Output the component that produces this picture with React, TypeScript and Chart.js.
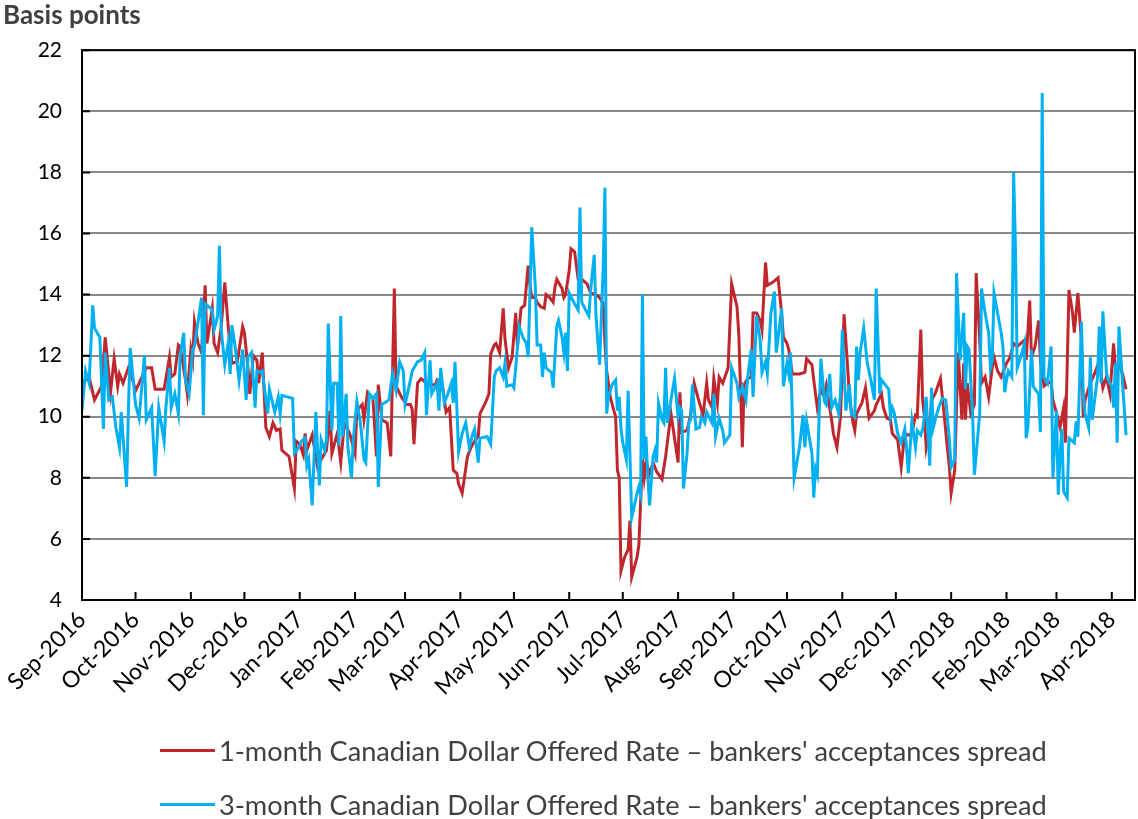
import React, { useEffect, useRef } from "react";
import { Chart, registerables } from "chart.js";

Chart.register(...registerables);

// ---- Data ----
// x = days since 1 Sep 2016
const monthTickDays = [0, 30, 61, 91, 122, 153, 181, 212, 242, 273, 303, 334, 365, 395, 426, 456, 487, 518, 546, 577];
const monthTickLabels = [
  "Sep-2016", "Oct-2016", "Nov-2016", "Dec-2016", "Jan-2017", "Feb-2017", "Mar-2017", "Apr-2017",
  "May-2017", "Jun-2017", "Jul-2017", "Aug-2017", "Sep-2017", "Oct-2017", "Nov-2017", "Dec-2017",
  "Jan-2018", "Feb-2018", "Mar-2018", "Apr-2018",
];

const seriesLabels = [
  "1-month Canadian Dollar Offered Rate \u2013 bankers' acceptances spread",
  "3-month Canadian Dollar Offered Rate \u2013 bankers' acceptances spread",
];

const oneMonthDays = [
  0, 4, 7, 11, 13, 16, 18, 20, 21, 23,
  26, 28, 30, 32, 36, 39, 41, 44, 46, 49,
  50, 52, 54, 55, 58, 59, 61, 62, 63, 65,
  67, 69, 70, 73, 74, 76, 78, 80, 82, 84,
  87, 90, 91, 93, 94, 96, 98, 99, 101, 103,
  105, 107, 109, 111, 112, 116, 119, 120, 122, 124,
  125, 126, 129, 132, 134, 137, 139, 140, 143, 145,
  147, 150, 153, 154, 157, 158, 160, 163, 165, 166,
  168, 171, 173, 175, 176, 179, 182, 184, 185, 186,
  188, 190, 192, 195, 198, 199, 202, 204, 206, 208,
  210, 211, 213, 215, 216, 218, 220, 222, 223, 226,
  228, 229, 231, 232, 234, 236, 237, 239, 241, 243,
  244, 246, 248, 250, 251, 252, 254, 255, 257, 259,
  260, 262, 264, 265, 266, 269, 270, 271, 273, 274,
  276, 278, 280, 283, 285, 288, 290, 292, 293, 294,
  296, 298, 299, 300, 301, 302, 304, 306, 307, 308,
  311, 312, 314, 315, 316, 318, 320, 322, 325, 327,
  330, 334, 335, 336, 339, 341, 343, 345, 348, 350,
  351, 353, 354, 356, 357, 359, 362, 364, 367, 368,
  370, 371, 373, 375, 376, 378, 380, 381, 383, 384,
  387, 389, 390, 392, 393, 395, 396, 398, 402, 405,
  406, 409, 410, 412, 414, 416, 417, 420, 421, 423,
  425, 427, 429, 430, 432, 433, 434, 437, 439, 441,
  444, 445, 448, 449, 451, 453, 454, 457, 459, 461,
  463, 465, 467, 468, 470, 471, 472, 473, 475, 476,
  478, 481, 483, 485, 486, 487, 489, 490, 491, 493,
  494, 495, 496, 498, 500, 501, 503, 504, 506, 508,
  510, 511, 513, 515, 517, 518, 520, 522, 524, 526,
  528, 529, 531, 532, 534, 536, 537, 539, 541, 543,
  544, 547, 548, 550, 551, 553, 555, 556, 558, 560,
  561, 562, 565, 568, 570, 572, 574, 576, 578, 579,
  581, 583, 585,
];
const oneMonthSpread = [
  11.1, 11.3, 10.55, 11.0, 12.6, 10.8, 11.9, 11.0, 11.4, 11.1,
  11.6, 11.3, 10.85, 11.1, 11.6, 11.6, 10.9, 10.9, 10.9, 11.95,
  11.3, 11.4, 12.35, 12.3, 11.2, 10.75, 12.2, 11.85, 13.1, 12.4,
  12.1, 14.3, 12.4, 13.55, 12.4, 12.1, 12.95, 14.4, 12.9, 11.75,
  11.8, 12.95, 12.75, 11.6, 10.75, 12.0, 11.85, 11.1, 12.1, 9.65,
  9.35, 9.8, 9.55, 9.6, 8.9, 8.7, 7.65, 9.2, 9.1, 8.75,
  9.45, 8.9, 9.4, 8.35, 8.6, 8.9, 10.2, 8.8, 9.45, 8.5,
  9.8, 9.45, 8.8, 10.2, 10.4, 9.9, 10.8, 10.6, 8.7, 11.05,
  9.9, 9.8, 8.7, 14.2, 11.0, 10.65, 10.4, 10.4, 10.25, 9.1,
  11.1, 11.25, 11.15, 11.05, 11.05, 11.2, 11.0, 10.15, 10.3, 8.25,
  8.15, 7.8, 7.5, 8.3, 8.7, 9.0, 9.2, 9.35, 10.1, 10.45,
  10.75, 12.05, 12.35, 12.4, 12.1, 13.55, 12.55, 11.6, 11.95, 13.4,
  12.3, 13.55, 13.65, 14.95, 14.3, 13.9, 13.9, 13.75, 13.6, 13.55,
  14.0, 13.9, 13.75, 14.25, 14.5, 14.2, 13.9, 14.0, 14.8, 15.5,
  15.4, 14.5, 14.5, 14.35, 14.05, 14.0, 13.9, 13.7, 12.4, 11.5,
  10.65, 10.2, 10.0, 8.25, 8.0, 4.95, 5.4, 5.65, 6.6, 4.75,
  5.4, 5.8, 8.6, 8.0, 8.5, 8.15, 8.5, 8.2, 7.95, 8.7,
  10.1, 8.5, 10.8, 9.5, 9.55, 10.05, 11.1, 10.65, 10.05, 11.1,
  10.55, 10.3, 11.25, 10.45, 11.3, 11.1, 11.6, 14.35, 13.6, 12.7,
  9.0, 11.05, 11.25, 11.3, 13.4, 13.4, 13.15, 12.85, 15.05, 14.3,
  14.4, 14.5, 14.55, 13.4, 12.6, 12.4, 12.2, 11.4, 11.4, 11.45,
  11.9, 11.7, 11.2, 10.3, 10.9, 10.65, 11.0, 9.9, 9.45, 9.0,
  10.0, 13.35, 11.6, 10.65, 9.8, 9.55, 10.1, 10.45, 10.95, 9.95,
  10.2, 10.4, 10.75, 10.3, 9.95, 9.9, 9.45, 9.25, 8.35, 9.45,
  9.4, 9.45, 10.05, 10.0, 12.85, 10.55, 10.0, 9.0, 9.65, 10.55,
  10.75, 11.25, 10.1, 8.9, 8.35, 7.5, 8.25, 10.3, 12.1, 9.9,
  11.75, 9.9, 11.1, 10.1, 10.4, 14.7, 12.5, 11.1, 11.3, 10.65,
  11.6, 11.95, 11.5, 11.3, 11.6, 11.75, 11.95, 12.4, 12.3, 12.4,
  12.5, 11.85, 13.8, 11.95, 12.3, 13.15, 11.85, 11.0, 11.1, 11.15,
  10.55, 9.9, 9.65, 10.3, 9.15, 14.15, 13.4, 12.75, 14.05, 12.5,
  10.0, 10.55, 11.1, 11.5, 11.85, 10.95, 11.3, 10.75, 12.4, 11.6,
  11.75, 11.4, 10.9,
];

const threeMonthDays = [
  0, 2, 4, 6, 7, 10, 12, 13, 15, 17,
  19, 21, 22, 25, 26, 27, 30, 32, 35, 36,
  39, 41, 43, 46, 47, 49, 50, 52, 54, 55,
  57, 58, 60, 62, 63, 67, 68, 69, 73, 74,
  76, 77, 78, 80, 82, 83, 84, 86, 88, 90,
  92, 93, 95, 97, 98, 100, 101, 104, 105, 108,
  110, 111, 112, 118, 119, 121, 123, 125, 126, 127,
  129, 131, 133, 134, 136, 137, 138, 140, 141, 143,
  144, 145, 146, 148, 149, 151, 152, 154, 156, 158,
  159, 161, 163, 165, 166, 168, 172, 174, 176, 178,
  180, 181, 184, 185, 188, 190, 192, 193, 195, 196,
  199, 200, 201, 203, 205, 207, 208, 209, 211, 213,
  215, 217, 219, 220, 222, 223, 227, 229, 231, 232,
  234, 236, 237, 238, 241, 242, 243, 245, 247, 249,
  250, 252, 254, 255, 257, 258, 259, 260, 263, 264,
  266, 267, 269, 270, 271, 272, 273, 276, 278, 279,
  280, 283, 284, 285, 287, 288, 290, 292, 293, 294,
  295, 297, 299, 300, 301, 302, 303, 305, 306, 308,
  311, 312, 313, 314, 315, 316, 317, 318, 320, 321,
  322, 323, 325, 326, 327, 328, 330, 332, 334, 335,
  336, 337, 339, 340, 341, 342, 344, 346, 347, 349,
  350, 353, 354, 355, 357, 359, 360, 363, 364, 367,
  368, 370, 372, 373, 375, 376, 378, 380, 381, 383,
  384, 386, 388, 389, 392, 393, 395, 396, 397, 399,
  402, 404, 405, 406, 409, 410, 411, 412, 414, 416,
  417, 419, 420, 422, 424, 425, 426, 428, 430, 431,
  433, 434, 435, 436, 438, 440, 442, 444, 445, 447,
  448, 450, 452, 453, 454, 455, 457, 459, 461, 462,
  463, 464, 465, 467, 468, 470, 471, 472, 473, 475,
  476, 477, 478, 480, 482, 484, 486, 487, 489, 490,
  492, 494, 495, 496, 497, 499, 500, 503, 504, 506,
  508, 509, 510, 511, 513, 515, 516, 517, 518, 519,
  521, 522, 523, 524, 526, 528, 529, 530, 532, 533,
  534, 536, 537, 538, 539, 541, 543, 544, 546, 547,
  548, 549, 550, 552, 553, 556, 557, 558, 560, 561,
  562, 564, 565, 566, 569, 570, 571, 572, 574, 575,
  577, 578, 579, 580, 581, 583, 585,
];
const threeMonthSpread = [
  10.2, 11.5, 11.1, 13.65, 12.9, 12.6, 9.6, 12.1, 10.55, 10.65,
  9.65, 9.0, 10.15, 7.7, 10.2, 12.25, 10.4, 9.95, 12.0, 9.9,
  10.3, 8.05, 10.3, 9.2, 10.3, 11.6, 10.3, 10.75, 10.1, 12.0,
  12.75, 11.2, 10.75, 12.2, 12.3, 13.9, 10.05, 13.7, 13.5, 12.85,
  13.3, 15.6, 12.85, 11.7, 12.45, 11.4, 13.0, 12.2, 11.2, 12.2,
  10.55, 11.95, 12.1, 10.3, 11.5, 11.45, 11.5, 10.1, 10.9, 10.15,
  10.65, 10.1, 10.7, 10.6, 8.8, 8.95, 9.2, 9.3, 8.4, 8.6,
  7.1, 10.15, 7.75, 9.25, 8.9, 9.25, 13.05, 9.55, 11.1, 11.1,
  9.05, 13.3, 9.35, 10.75, 9.0, 8.0, 9.25, 10.5, 9.8, 8.6,
  8.5, 10.75, 10.6, 10.75, 7.7, 10.4, 10.55, 11.4, 10.85, 11.8,
  11.5, 10.4, 11.2, 11.5, 11.8, 11.85, 12.1, 10.05, 11.85, 10.75,
  11.1, 10.2, 11.6, 10.45, 10.75, 11.1, 10.45, 11.8, 8.85, 9.45,
  9.8, 9.0, 9.45, 9.6, 8.5, 9.3, 9.35, 9.1, 11.3, 11.5,
  11.6, 11.3, 11.75, 11.0, 11.05, 10.95, 11.6, 12.95, 12.6, 12.4,
  11.95, 16.2, 14.25, 12.35, 12.35, 11.3, 12.1, 11.6, 11.45, 10.95,
  12.95, 13.15, 12.6, 12.1, 12.75, 11.5, 14.05, 13.7, 13.5, 16.85,
  13.75, 13.4, 13.3, 14.15, 15.3, 13.3, 11.7, 14.8, 17.5, 10.1,
  10.65, 11.05, 11.2, 10.2, 10.65, 9.6, 9.15, 8.6, 10.85, 6.7,
  7.5, 7.7, 7.45, 14.0, 8.6, 9.35, 8.05, 7.1, 8.7, 8.9,
  8.5, 10.45, 9.9, 9.8, 11.6, 9.8, 10.55, 11.25, 10.0, 10.3,
  10.2, 7.65, 8.8, 9.8, 9.9, 11.05, 9.6, 9.65, 10.0, 9.8,
  10.15, 9.8, 10.75, 9.35, 9.95, 9.55, 9.15, 9.4, 11.6, 11.1,
  10.65, 11.0, 10.55, 11.3, 12.2, 10.65, 13.3, 12.5, 11.45, 11.8,
  11.4, 13.4, 14.1, 12.1, 13.55, 11.0, 11.75, 11.4, 12.1, 8.0,
  9.0, 10.05, 9.0, 9.85, 8.8, 7.35, 8.3, 8.1, 11.9, 10.5,
  10.4, 11.4, 10.3, 10.55, 10.1, 10.8, 12.85, 10.2, 11.05, 10.1,
  10.0, 12.3, 11.2, 12.1, 12.9, 11.75, 11.2, 10.55, 14.2, 10.75,
  11.2, 11.05, 10.9, 10.0, 10.3, 10.15, 9.45, 9.15, 9.6, 9.0,
  8.15, 9.0, 9.85, 9.0, 9.55, 9.4, 9.6, 10.0, 10.65, 8.4,
  10.95, 9.65, 9.9, 10.3, 10.6, 10.55, 9.25, 8.35, 8.6, 14.7,
  11.85, 13.4, 10.9, 12.3, 12.2, 10.1, 8.1, 10.1, 14.2, 13.4,
  12.75, 11.6, 11.85, 14.05, 13.4, 12.75, 12.3, 10.8, 11.2, 11.5,
  11.3, 18.0, 15.55, 11.6, 11.95, 12.4, 9.3, 9.65, 12.2, 11.0,
  10.9, 10.75, 9.5, 20.6, 11.3, 11.1, 12.3, 8.0, 10.2, 7.45,
  8.7, 9.6, 7.55, 7.35, 9.3, 9.15, 9.85, 9.35, 13.1, 10.75,
  10.1, 9.65, 11.95, 9.9, 11.3, 12.95, 11.1, 13.45, 11.45, 11.2,
  11.0, 10.3, 11.75, 9.15, 12.95, 11.1, 9.4,
];

const RED = "#C0272D";
const BLUE = "#00B0F0";
const FONT = "Lato, 'Open Sans', sans-serif";

const framePlugin = {
  id: "frame",
  afterDraw(chart: any) {
    const { ctx, chartArea, scales } = chart;
    const { left, top, right, bottom } = chartArea;
    ctx.save();
    ctx.strokeStyle = "#000";
    ctx.lineWidth = 2;
    ctx.strokeRect(left, top, right - left, bottom - top);
    ctx.beginPath();
    monthTickDays.forEach((d) => {
      const px = scales.x.getPixelForValue(d);
      ctx.moveTo(px, bottom);
      ctx.lineTo(px, bottom - 8);
    });
    scales.y.ticks.forEach((t: any) => {
      const py = scales.y.getPixelForValue(t.value);
      ctx.moveTo(left, py);
      ctx.lineTo(left + 8, py);
    });
    ctx.stroke();
    ctx.restore();
  },
};

export default function App() {
  const canvasRef = useRef<HTMLCanvasElement | null>(null);

  useEffect(() => {
    document.body.style.margin = "0";
    const canvas = canvasRef.current;
    if (!canvas) return;
    const chart = new Chart(canvas, {
      type: "line",
      data: {
        datasets: [
          {
            label: seriesLabels[0],
            data: oneMonthDays.map((d, i) => ({ x: d, y: oneMonthSpread[i] })),
            borderColor: RED,
            backgroundColor: RED,
            borderWidth: 3,
            pointRadius: 0,
            tension: 0,
            order: 1,
          },
          {
            label: seriesLabels[1],
            data: threeMonthDays.map((d, i) => ({ x: d, y: threeMonthSpread[i] })),
            borderColor: BLUE,
            backgroundColor: BLUE,
            borderWidth: 3,
            pointRadius: 0,
            tension: 0,
            order: 0,
          },
        ],
      },
      options: {
        animation: false,
        responsive: false,
        devicePixelRatio: 1,
        layout: { padding: { left: 3, right: 3, top: 0, bottom: 0 } },
        plugins: {
          legend: { display: false },
          tooltip: { enabled: false },
          title: {
            display: true,
            text: "Basis points",
            align: "start",
            color: "#404040",
            font: { family: FONT, size: 26, weight: "bold" },
            padding: { top: 0, bottom: 19 },
          },
        },
        scales: {
          x: {
            type: "linear",
            min: 0,
            max: 590,
            afterBuildTicks: (scale: any) => {
              scale.ticks = monthTickDays.map((v) => ({ value: v }));
            },
            afterFit: (scale: any) => {
              scale.height = 219;
            },
            ticks: {
              autoSkip: false,
              maxRotation: 45,
              minRotation: 45,
              padding: 6,
              color: "#000",
              font: { family: FONT, size: 23 },
              callback: (value: any) => {
                const i = monthTickDays.indexOf(Number(value));
                return i >= 0 ? monthTickLabels[i] : "";
              },
            },
            grid: { drawOnChartArea: false, drawTicks: false },
            border: { color: "#000", width: 2 },
          },
          y: {
            min: 4,
            max: 22,
            afterFit: (scale: any) => {
              scale.width = 79;
            },
            ticks: {
              stepSize: 2,
              padding: 20,
              color: "#000",
              font: { family: FONT, size: 21 },
            },
            grid: { color: "#898989", lineWidth: 2, drawTicks: false },
            border: { color: "#000", width: 2 },
          },
        },
      },
      plugins: [framePlugin],
    });
    return () => chart.destroy();
  }, []);

  const legendRow = (color: string, text: string, top: number) => (
    <div
      style={{
        position: "absolute",
        left: 160,
        top,
        height: 32,
        display: "flex",
        alignItems: "center",
        whiteSpace: "nowrap",
        fontFamily: FONT,
        fontSize: 27.2,
        color: "#404040",
      }}
    >
      <span style={{ display: "inline-block", width: 55, height: 3, background: color, marginRight: 4 }} />
      <span>{text}</span>
    </div>
  );

  return (
    <div style={{ position: "absolute", left: 0, top: 0, width: 1138, height: 819 }}>
      <canvas ref={canvasRef} width={1138} height={819} style={{ display: "block" }} />
      {legendRow(RED, seriesLabels[0], 734)}
      {legendRow(BLUE, seriesLabels[1], 788)}
    </div>
  );
}
